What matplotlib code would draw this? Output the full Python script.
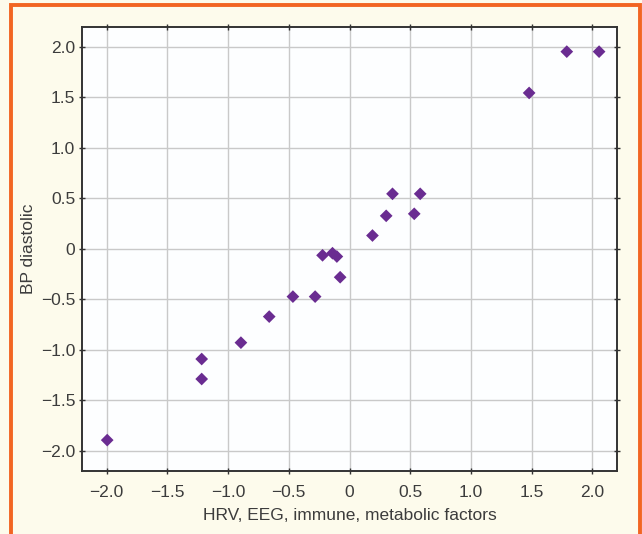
import matplotlib
matplotlib.use("Agg")
import matplotlib.pyplot as plt
from matplotlib.patches import Rectangle
from matplotlib.ticker import FuncFormatter

# Data
x_vals = [-1.995, -1.217, -1.217, -0.894, -0.661, -0.466, -0.283, -0.222, -0.140,
          -0.104, -0.077, 0.189, 0.302, 0.354, 0.533, 0.582, 1.479, 1.789, 2.055]
y_vals = [-1.894, -1.091, -1.289, -0.929, -0.671, -0.473, -0.473, -0.064, -0.043,
          -0.076, -0.281, 0.132, 0.327, 0.545, 0.347, 0.545, 1.544, 1.953, 1.953]
tick_vals = [-2.0, -1.5, -1.0, -0.5, 0.0, 0.5, 1.0, 1.5, 2.0]
x_label = "HRV, EEG, immune, metabolic factors"
y_label = "BP diastolic"

plt.rcParams['font.family'] = ['Liberation Sans', 'DejaVu Sans']

fig = plt.figure(figsize=(6.42, 5.34), dpi=100)
fig.patch.set_facecolor('#fdfbec')

# orange frame
fig.patches.append(Rectangle((11.5 / 642, -0.05), (639.5 - 11.5) / 642, 1 - 5.0 / 534 + 0.05,
                             transform=fig.transFigure, fill=False,
                             edgecolor='#f26522', linewidth=2.8, zorder=10))

ax = fig.add_axes([82.3 / 642, 1 - 471 / 534, (616.7 - 82.3) / 642, (471 - 26.7) / 534])
ax.set_facecolor('#fdfeff')

ax.scatter(x_vals, y_vals, marker='D', s=42, color='#6a2c91', edgecolors='none', zorder=3)

ax.set_xlim(-2.2, 2.2)
ax.set_ylim(-2.2, 2.2)
ax.set_xticks(tick_vals)
ax.set_yticks(tick_vals)

def fmt(v, pos):
    if abs(v) < 1e-9:
        return '0'
    return f'{v:.1f}'.replace('-', '\u2212')

ax.xaxis.set_major_formatter(FuncFormatter(fmt))
ax.yaxis.set_major_formatter(FuncFormatter(fmt))

ax.grid(True, color='#c9c9c9', linewidth=1.0, zorder=0)
ax.set_axisbelow(True)
for sp in ax.spines.values():
    sp.set_color('#333333')
    sp.set_linewidth(1.4)

ax.tick_params(axis='both', direction='inout', length=4, width=1, color='#333333',
               labelsize=12.5, labelcolor='#3c3c3c', top=True, right=True)
ax.tick_params(axis='x', pad=8)
ax.tick_params(axis='y', pad=3)

ax.set_xlabel(x_label, fontsize=12.5, color='#3c3c3c')
ax.set_ylabel(y_label, fontsize=12.5, color='#3c3c3c')
ax.xaxis.set_label_coords(0.5, -(515 - 471) / 444.3, transform=ax.transAxes)
ax.yaxis.set_label_coords(-(82.3 - 29) / 534.4, 0.5, transform=ax.transAxes)
ax.xaxis.label.set_va('center')
ax.yaxis.label.set_va('center')

fig.savefig('out.png', dpi=100, facecolor=fig.get_facecolor())
